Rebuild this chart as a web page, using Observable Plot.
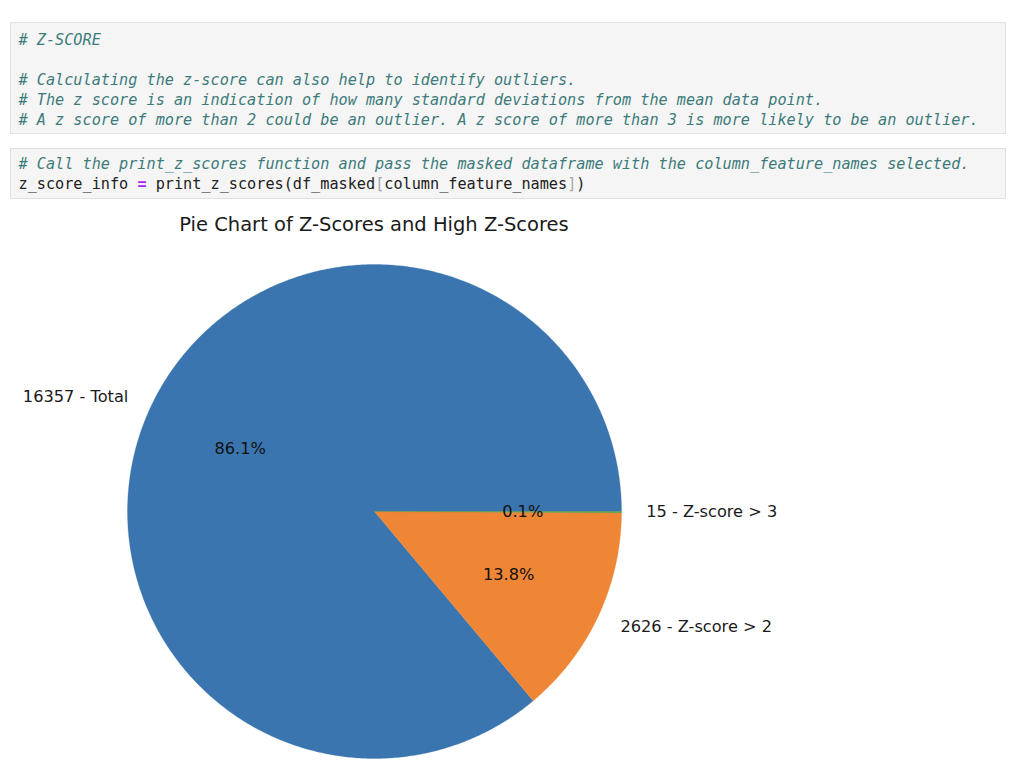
<!DOCTYPE html>
<html>
<head>
<meta charset="utf-8">
<script src="https://cdn.jsdelivr.net/npm/d3@7"></script>
<script src="https://cdn.jsdelivr.net/npm/@observablehq/plot@0.6"></script>
<style>
  html, body { margin: 0; padding: 0; background: #ffffff; }
  body { width: 1018px; height: 776px; position: relative; overflow: hidden; }
  .cell {
    position: absolute; left: 10px; width: 996px;
    background: #f5f5f5; border: 1px solid #e0e0e0;
    box-sizing: border-box;
  }
  .cell pre {
    margin: 0; padding: 0 0 0 7.5px;
    font-family: "DejaVu Sans Mono", monospace; font-size: 15.2px; line-height: 20px;
    color: #212121; white-space: pre;
  }
  .c { color: #3d7b7b; font-style: italic; }
  .op { color: #aa22ff; font-weight: bold; }
  .br { color: #a8a8a8; }
  #title {
    position: absolute; left: 0; width: 748px; top: 213px; text-align: center;
    font-family: "DejaVu Sans", sans-serif; font-size: 19.5px; color: #1a1a1a;
  }
  #chart { position: absolute; left: 0; top: 240px; }
</style>
</head>
<body>
<div class="cell" style="top:22px;height:112px;padding-top:7px;"><pre><span class="c"># Z-SCORE</span>

<span class="c"># Calculating the z-score can also help to identify outliers.</span>
<span class="c"># The z score is an indication of how many standard deviations from the mean data point.</span>
<span class="c"># A z score of more than 2 could be an outlier. A z score of more than 3 is more likely to be an outlier.</span></pre></div>
<div class="cell" style="top:148px;height:51px;padding-top:5px;"><pre><span class="c"># Call the print_z_scores function and pass the masked dataframe with the column_feature_names selected.</span>
z_score_info <span class="op">=</span> print_z_scores(df_masked<span class="br">[</span>column_feature_names<span class="br">]</span>)</pre></div>
<div id="title">Pie Chart of Z-Scores and High Z-Scores</div>
<div id="chart"></div>
<script>
// ---- data ----
const sliceLabels = ["16357 - Total", "2626 - Z-score > 2", "15 - Z-score > 3"];
const sliceCounts = [16357, 2626, 15];
const sliceColors = ["#3a75af", "#ef8636", "#4e9a3f"];

// ---- derived geometry (matplotlib: start at 0°, counter-clockwise) ----
const total = d3.sum(sliceCounts);
const polyPoints = [];
const labelData = [];
let a0 = 0;
sliceCounts.forEach((v, i) => {
  const frac = v / total;
  const a1 = a0 + frac * 2 * Math.PI;
  const n = Math.max(2, Math.ceil((a1 - a0) / (Math.PI / 360)));
  polyPoints.push({slice: i, x: 0, y: 0, color: sliceColors[i]});
  for (let k = 0; k <= n; k++) {
    const a = a0 + (a1 - a0) * k / n;
    polyPoints.push({slice: i, x: Math.cos(a), y: Math.sin(a), color: sliceColors[i]});
  }
  polyPoints.push({slice: i, x: 0, y: 0, color: sliceColors[i]});
  const mid = (a0 + a1) / 2;
  labelData.push({
    label: sliceLabels[i],
    pct: (frac * 100).toFixed(1) + "%",
    lx: 1.1 * Math.cos(mid), ly: 1.1 * Math.sin(mid),
    px: 0.6 * Math.cos(mid), py: 0.6 * Math.sin(mid)
  });
  a0 = a1;
});

const cx = 374, cy = 271, r = 247;
const fs = 16.2;
const chart = Plot.plot({
  width: 1018,
  height: 536,
  margin: 0,
  style: {background: "transparent", overflow: "visible"},
  x: {type: "linear", domain: [-1, 1], range: [cx - r, cx + r], axis: null},
  y: {type: "linear", domain: [-1, 1], range: [cy + r, cy - r], axis: null},
  color: {type: "identity"},
  marks: [
    Plot.line(polyPoints, {x: "x", y: "y", z: "slice", fill: "color", stroke: "color", strokeWidth: 0.3, curve: "linear"}),
    Plot.text(labelData.filter(d => d.lx < 0), {x: "lx", y: "ly", text: "label", textAnchor: "end", fontSize: fs, fontFamily: "DejaVu Sans", fill: "#1a1a1a"}),
    Plot.text(labelData.filter(d => d.lx >= 0), {x: "lx", y: "ly", text: "label", textAnchor: "start", fontSize: fs, fontFamily: "DejaVu Sans", fill: "#1a1a1a"}),
    Plot.text(labelData, {x: "px", y: "py", text: "pct", textAnchor: "middle", fontSize: fs, fontFamily: "DejaVu Sans", fill: "#111111"})
  ]
});
document.getElementById("chart").appendChild(chart);
</script>
</body>
</html>
